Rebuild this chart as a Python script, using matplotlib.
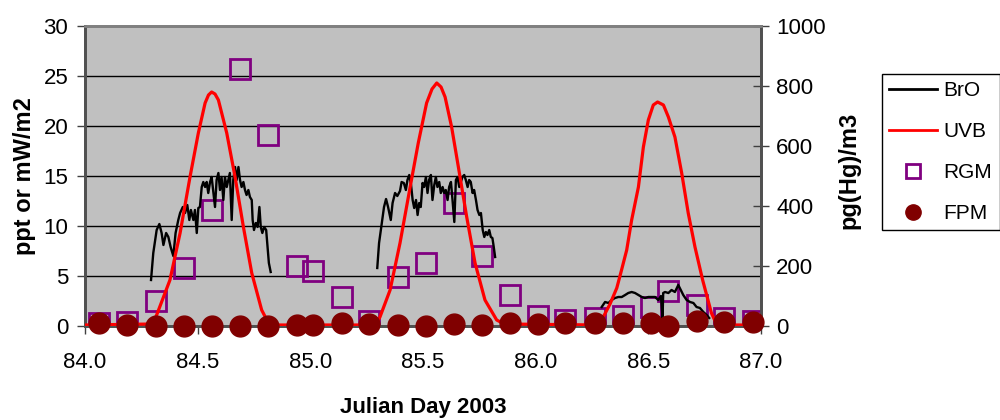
import numpy as np
import matplotlib
matplotlib.use("Agg")
import matplotlib.pyplot as plt
from matplotlib.lines import Line2D

plt.rcParams['font.family'] = ['Liberation Sans', 'DejaVu Sans']

# ---------------- data ----------------
# BrO (ppt), three daytime segments
bro1_day = [84.293, 84.303, 84.318, 84.330, 84.340, 84.348, 84.360, 84.370, 84.380, 84.392,
            84.402, 84.414, 84.422, 84.434, 84.444, 84.454, 84.463, 84.470, 84.481, 84.488,
            84.496, 84.503, 84.510, 84.518, 84.525, 84.533, 84.540, 84.547, 84.555, 84.562,
            84.570, 84.577, 84.584, 84.592, 84.599, 84.606, 84.614, 84.621, 84.629, 84.636,
            84.643, 84.651, 84.658, 84.666, 84.673, 84.681, 84.688, 84.695, 84.703, 84.710,
            84.717, 84.725, 84.732, 84.740, 84.744, 84.750, 84.758, 84.766, 84.774, 84.780,
            84.787, 84.795, 84.804, 84.810, 84.816, 84.824]
bro1_val = [4.6, 7.3, 9.6, 10.2, 9.3, 8.1, 9.3, 8.9, 7.9, 7.0,
            9.3, 10.6, 11.3, 11.9, 11.3, 12.1, 10.6, 11.6, 10.6, 11.6,
            9.3, 11.8, 11.9, 13.9, 14.4, 13.9, 14.4, 13.3, 14.4, 14.9,
            13.3, 11.9, 14.6, 15.3, 13.6, 14.9, 12.6, 14.9, 13.9, 14.6,
            15.3, 10.6, 14.6, 15.9, 14.6, 15.9, 14.6, 13.9, 14.4, 13.6,
            13.1, 13.6, 12.9, 12.6, 10.6, 9.6, 10.3, 9.9, 11.9, 9.9,
            9.3, 9.9, 9.6, 7.9, 6.3, 5.4]

bro2_day = [85.297, 85.305, 85.317, 85.327, 85.336, 85.345, 85.357, 85.365, 85.376, 85.386,
            85.398, 85.405, 85.415, 85.424, 85.431, 85.439, 85.447, 85.454, 85.461, 85.469,
            85.476, 85.483, 85.490, 85.498, 85.505, 85.513, 85.520, 85.527, 85.535, 85.542,
            85.550, 85.557, 85.564, 85.572, 85.579, 85.587, 85.594, 85.601, 85.609, 85.616,
            85.624, 85.631, 85.639, 85.646, 85.653, 85.661, 85.668, 85.675, 85.683, 85.690,
            85.698, 85.705, 85.712, 85.720, 85.727, 85.735, 85.742, 85.750, 85.757, 85.765,
            85.772, 85.779, 85.786, 85.794, 85.801, 85.808, 85.814, 85.820]
bro2_val = [5.8, 8.3, 10.3, 11.9, 12.7, 11.9, 10.6, 12.3, 13.3, 13.0,
            13.5, 14.4, 14.3, 13.6, 14.6, 15.1, 14.1, 12.6, 11.8, 12.6,
            11.1, 12.3, 11.9, 14.3, 13.9, 14.9, 13.3, 14.6, 15.1, 12.6,
            14.1, 14.9, 13.9, 14.4, 13.3, 13.9, 13.3, 13.6, 12.6, 13.9,
            14.4, 12.6, 10.4, 14.6, 14.9, 13.9, 14.4, 14.9, 15.1, 14.6,
            13.9, 14.6, 14.4, 13.3, 13.6, 12.6, 11.6, 11.1, 11.3, 9.6,
            8.9, 9.4, 9.1, 9.6, 8.9, 8.8, 7.9, 6.9]

bro3_day = [86.293, 86.308, 86.323, 86.337, 86.352, 86.367, 86.382, 86.397, 86.411, 86.426,
            86.441, 86.456, 86.471, 86.485, 86.500, 86.515, 86.530, 86.544, 86.556, 86.563,
            86.566, 86.574, 86.589, 86.603, 86.618, 86.633, 86.644, 86.655, 86.670, 86.685,
            86.700, 86.714, 86.729, 86.744, 86.759, 86.770]
bro3_val = [1.9, 2.4, 2.3, 2.6, 2.8, 2.9, 2.9, 3.1, 3.3, 3.4,
            3.3, 3.1, 2.9, 2.8, 2.9, 2.9, 2.9, 2.6, 3.0, 0.8,
            3.3, 3.4, 3.3, 3.6, 3.4, 4.1, 3.6, 3.1, 2.6, 2.4,
            2.3, 1.9, 1.8, 1.4, 1.1, 0.8]

# UVB (mW/m2)
uvb_day = [84.000, 84.300, 84.318, 84.377, 84.422, 84.466, 84.503, 84.533, 84.548, 84.562,
           84.577, 84.592, 84.629, 84.666, 84.703, 84.740, 84.784, 84.814, 84.840,
           85.290, 85.309, 85.354, 85.398, 85.443, 85.479, 85.516, 85.540, 85.561, 85.580,
           85.598, 85.627, 85.657, 85.694, 85.731, 85.775, 85.827, 85.860,
           86.280, 86.300, 86.330, 86.360, 86.380, 86.404, 86.426, 86.456, 86.478,
           86.500, 86.522, 86.541, 86.567, 86.589, 86.618, 86.648, 86.677, 86.707,
           86.741, 86.780, 86.800, 86.820, 87.000]
uvb_val = [0.1, 0.2, 1.1, 4.6, 9.3, 14.9, 19.3, 22.3, 23.1, 23.4,
           23.2, 22.6, 19.3, 14.9, 9.9, 5.3, 1.6, 0.3, 0.1,
           0.1, 0.9, 3.6, 8.3, 13.9, 18.3, 22.3, 23.7, 24.3, 23.9,
           22.9, 19.9, 15.9, 10.9, 6.3, 2.6, 0.6, 0.2,
           0.1, 0.9, 2.2, 3.8, 5.5, 7.6, 10.6, 13.9, 17.9,
           20.6, 22.1, 22.4, 22.1, 20.9, 18.9, 15.3, 11.3, 7.9,
           4.6, 1.3, 0.3, 0.1, 0.1]

# RGM and FPM (pg(Hg)/m3)
hg_day = [84.064, 84.188, 84.315, 84.440, 84.564, 84.690, 84.814, 84.940, 85.013, 85.139,
          85.262, 85.389, 85.513, 85.638, 85.763, 85.886, 86.012, 86.130, 86.262, 86.386,
          86.510, 86.589, 86.714, 86.837, 86.963]
rgm_val = [9, 14, 83, 192, 387, 858, 637, 201, 183, 98,
           18, 164, 209, 409, 233, 103, 34, 20, 26, 33,
           64, 117, 70, 26, 17]
fpm_val = [11, 3, 0, 0, 0, 0, 0, 3, 3, 9,
           7, 3, 1, 7, 3, 11, 7, 9, 9, 11,
           9, 0, 18, 14, 14]

x_ticks = [84.0, 84.5, 85.0, 85.5, 86.0, 86.5, 87.0]
left_ticks = [0, 5, 10, 15, 20, 25, 30]
right_ticks = [0, 200, 400, 600, 800, 1000]

# ---------------- figure ----------------
W, H = 1000, 420
fig = plt.figure(figsize=(W / 100, H / 100), dpi=100)
ax = fig.add_axes([85 / W, 1 - 326 / H, 676 / W, 300 / H])
ax2 = ax.twinx()

ax.set_facecolor('#C0C0C0')
ax.set_xlim(84.0, 87.0)
ax.set_ylim(0, 30)
ax2.set_ylim(0, 1000)

ax.set_yticks(left_ticks)
ax.set_yticklabels([str(v) for v in left_ticks])
ax2.set_yticks(right_ticks)
ax2.set_yticklabels([str(v) for v in right_ticks])
ax.set_xticks(x_ticks)
ax.set_xticklabels([f"{v:.1f}" for v in x_ticks])

ax.yaxis.grid(True, color='black', linewidth=1.0)
ax.set_axisbelow(True)

fs = 16
ax.tick_params(axis='y', direction='out', length=6, width=1, pad=6, labelsize=fs, color='#404040')
ax.tick_params(axis='x', direction='out', length=6, width=1, pad=13, labelsize=fs, color='#404040')
ax2.tick_params(axis='y', direction='inout', length=12, width=1, pad=5, labelsize=fs, color='#404040')

for a in (ax, ax2):
    a.spines['top'].set_color('#808080')
    a.spines['top'].set_linewidth(2)
    for s in ('left', 'right', 'bottom'):
        a.spines[s].set_color('#505050')
        a.spines[s].set_linewidth(2)

# BrO line (concatenate segments with gaps)
nan = [np.nan]
bro_day = bro1_day + nan + bro2_day + nan + bro3_day
bro_val = bro1_val + nan + bro2_val + nan + bro3_val

# draw everything in ax2 so stacking order can be controlled; lines use left-axis scale
ax2.plot(hg_day, rgm_val, linestyle='none', marker='s', markersize=14,
         markerfacecolor='none', markeredgecolor='#800080', markeredgewidth=2, zorder=2)
ax2.plot(bro_day, bro_val, color='black', linewidth=1.7, zorder=3, transform=ax.transData)
ax2.plot(uvb_day, uvb_val, color='#FF0000', linewidth=2.3, zorder=3, transform=ax.transData)
ax2.plot(hg_day, fpm_val, linestyle='none', marker='o', markersize=15,
         markerfacecolor='#800000', markeredgecolor='#800000', zorder=4, clip_on=False)

# axis labels
fig.text(25 / W, 1 - 176 / H, 'ppt or mW/m2', rotation=90, ha='center', va='center',
         fontsize=17, fontweight='bold')
fig.text(849 / W, 1 - 170 / H, 'pg(Hg)/m3', rotation=90, ha='center', va='center',
         fontsize=17, fontweight='bold')
fig.text(423 / W, 1 - 407 / H, 'Julian Day 2003', ha='center', va='center',
         fontsize=16, fontweight='bold')

# legend
handles = [
    Line2D([], [], color='black', linewidth=2),
    Line2D([], [], color='#FF0000', linewidth=2),
    Line2D([], [], linestyle='none', marker='s', markersize=10, markerfacecolor='none',
           markeredgecolor='#800080', markeredgewidth=2),
    Line2D([], [], linestyle='none', marker='o', markersize=11, markerfacecolor='#800000',
           markeredgecolor='#800000'),
]
labels = ['BrO', 'UVB', 'RGM', 'FPM']
leg = fig.legend(handles, labels, loc='upper left', bbox_to_anchor=(882 / W, 1 - 74 / H),
                 fontsize=15, frameon=True, fancybox=False, framealpha=1,
                 edgecolor='black', handlelength=2.3, handletextpad=0.3,
                 labelspacing=1.05, borderpad=0.35, borderaxespad=0)
leg.get_frame().set_linewidth(1.0)

fig.savefig('out.png', dpi=100)
